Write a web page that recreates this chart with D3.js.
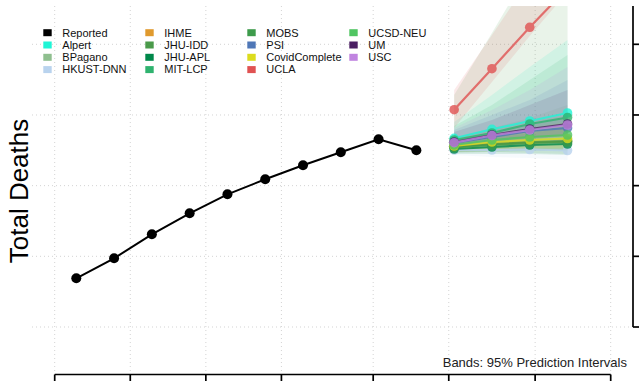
<!DOCTYPE html>
<html>
<head>
<meta charset="utf-8">
<script src="https://cdn.jsdelivr.net/npm/d3@7"></script>
<style>
  body { margin: 0; background: #fff; }
  svg { display: block; font-family: "Liberation Sans", Arial, sans-serif; }
</style>
</head>
<body>
<svg width="639" height="381"></svg>
<script>
const width = 639, height = 381;

// data
const xTicks = ["2021-02-01","2021-02-15","2021-03-01","2021-03-15","2021-04-01","2021-04-15","2021-05-01","2021-05-15"];
const yTicks = [2000, 4000, 6000, 8000, 10000];

const reportedDates = ["2021-02-05","2021-02-12","2021-02-19","2021-02-26","2021-03-05",
                       "2021-03-12","2021-03-19","2021-03-26","2021-04-02","2021-04-09"];
const reportedDeaths = [3378, 3944, 4623, 5218, 5755, 6180, 6576, 6944, 7312, 7001];

const forecastDates = ["2021-04-16","2021-04-23","2021-04-30","2021-05-07"];

const models = ["Alpert","BPagano","HKUST-DNN","IHME","JHU-IDD","JHU-APL","MIT-LCP",
                "MOBS","PSI","CovidComplete","UCLA","UCSD-NEU","UM","USC"];
const modelColors = ["#1ff5d6","#8fbf8f","#b9d3ee","#e09a2e","#4a9a4a","#00884a","#2fb36f",
                     "#3d9b4b","#4f77b7","#dcdc1e","#e05252","#50c562","#4b1f63","#c084e0"];

const forecastMedian = [
  [7340, 7595, 7830, 8056],   // Alpert
  [7122, 7207, 7264, 7292],   // BPagano
  [7009, 7009, 7023, 6995],   // HKUST-DNN
  [7108, 7179, 7221, 7250],   // IHME
  [7094, 7179, 7235, 7264],   // JHU-IDD
  [7037, 7094, 7150, 7179],   // JHU-APL
  [7292, 7490, 7745, 7929],   // MIT-LCP
  [7080, 7150, 7207, 7235],   // MOBS
  [7207, 7377, 7547, 7632],   // PSI
  [7122, 7235, 7292, 7334],   // CovidComplete
  [8149, 9310, 10481, 11594], // UCLA
  [7150, 7292, 7377, 7433],   // UCSD-NEU
  [7235, 7433, 7603, 7745],   // UM
  [7216, 7419, 7575, 7716]    // USC
];
const forecastLower = [
  [7207, 7349, 7490, 7632],
  [6952, 6981, 7009, 7009],
  [6867, 6811, 6783, 6726],
  [6952, 6981, 7009, 7009],
  [6952, 6952, 6924, 6896],
  [6896, 6896, 6896, 6867],
  [7150, 7235, 7349, 7462],
  [6924, 6952, 6981, 6981],
  [7066, 7179, 7264, 7320],
  [6981, 7037, 7066, 7066],
  [7632, 8933, 10235, 11480],
  [7009, 7094, 7150, 7179],
  [7094, 7207, 7320, 7405],
  [7094, 7207, 7320, 7433]
];
const forecastUpper = [
  [7801, 8565, 9358, 10122],
  [7349, 7632, 7915, 8282],
  [7150, 7207, 7292, 7349],
  [7264, 7405, 7547, 7688],
  [8565, 10320, 12131, 13943],
  [7207, 7349, 7490, 7632],
  [7688, 8282, 8990, 9697],
  [7292, 7518, 7716, 7915],
  [7575, 7999, 8424, 8990],
  [7292, 7462, 7632, 7801],
  [8707, 10263, 11848, 13433],
  [7349, 7575, 7801, 7999],
  [7518, 7858, 8282, 8707],
  [7632, 8141, 8707, 9358]
];

const parse = d3.utcParse("%Y-%m-%d");

const plot = { left: 32, right: 633, top: 6, bottom: 372 };

const x = d3.scaleUtc()
  .domain([parse(xTicks[0]), parse(xTicks[xTicks.length - 1])])
  .range([54.7, 610.7]);

const y = d3.scaleLinear()
  .domain([yTicks[0], yTicks[yTicks.length - 1]])
  .range([327, 44.3]);

const svg = d3.select("svg");

svg.append("defs").append("clipPath").attr("id", "clip")
  .append("rect")
  .attr("x", plot.left).attr("y", plot.top)
  .attr("width", plot.right - plot.left).attr("height", plot.bottom - plot.top);

// grid
const grid = svg.append("g")
  .attr("stroke", "#d3d3d3")
  .attr("stroke-dasharray", "1 3");

grid.selectAll(".vg").data(xTicks).enter().append("line")
  .attr("x1", d => x(parse(d))).attr("x2", d => x(parse(d)))
  .attr("y1", plot.top).attr("y2", plot.bottom);

grid.selectAll(".hg").data(yTicks).enter().append("line")
  .attr("x1", plot.left).attr("x2", plot.right)
  .attr("y1", d => y(d)).attr("y2", d => y(d));

const chart = svg.append("g").attr("clip-path", "url(#clip)");

// bands
const fDates = forecastDates.map(parse);
const area = d3.area()
  .x((d, i) => x(fDates[i]))
  .y0(d => y(d[0]))
  .y1(d => y(d[1]));

models.forEach(function(m, k) {
  const pts = forecastLower[k].map((lo, i) => [lo, forecastUpper[k][i]]);
  chart.append("path")
    .attr("d", area(pts))
    .attr("fill", modelColors[k])
    .attr("fill-opacity", 0.12);
});

// reported
const line = d3.line().x(d => x(d[0])).y(d => y(d[1]));
const rep = reportedDates.map((d, i) => [parse(d), reportedDeaths[i]]);

chart.append("path")
  .attr("d", line(rep))
  .attr("fill", "none")
  .attr("stroke", "#000")
  .attr("stroke-width", 2);

chart.selectAll(".rp").data(rep).enter().append("circle")
  .attr("cx", d => x(d[0])).attr("cy", d => y(d[1]))
  .attr("r", 5).attr("fill", "#000");

// forecast medians
models.forEach(function(m, k) {
  const pts = forecastMedian[k].map((v, i) => [fDates[i], v]);
  const g = chart.append("g").attr("opacity", 0.8);
  g.append("path")
    .attr("d", line(pts))
    .attr("fill", "none")
    .attr("stroke", modelColors[k])
    .attr("stroke-width", 2.2);
  g.selectAll("circle").data(pts).enter().append("circle")
    .attr("cx", d => x(d[0])).attr("cy", d => y(d[1]))
    .attr("r", 4.8).attr("fill", modelColors[k]);
});

// axes
const axisG = svg.append("g").attr("stroke", "#000").attr("stroke-width", 1.7);

axisG.append("line")
  .attr("x1", x(parse(xTicks[0]))).attr("x2", x(parse(xTicks[xTicks.length - 1])))
  .attr("y1", 374.5).attr("y2", 374.5);
axisG.selectAll(".xt").data(xTicks).enter().append("line")
  .attr("x1", d => x(parse(d))).attr("x2", d => x(parse(d)))
  .attr("y1", 374.5).attr("y2", 382);

axisG.append("line")
  .attr("x1", plot.right).attr("x2", plot.right)
  .attr("y1", plot.top).attr("y2", y(yTicks[0]));
axisG.selectAll(".yt").data(yTicks).enter().append("line")
  .attr("x1", plot.right).attr("x2", plot.right + 6)
  .attr("y1", d => y(d)).attr("y2", d => y(d));

// labels
svg.append("text")
  .attr("transform", "translate(28,191) rotate(-90)")
  .attr("text-anchor", "middle")
  .attr("font-size", 26)
  .text("Total Deaths");

svg.append("text")
  .attr("x", 627).attr("y", 367)
  .attr("text-anchor", "end")
  .attr("font-size", 13)
  .attr("fill", "#222")
  .text("Bands: 95% Prediction Intervals");

// legend
const legendNames = ["Reported"].concat(models);
const legendColors = ["#000"].concat(modelColors);

const leg = svg.append("g").attr("font-size", 11);
legendNames.forEach(function(name, i) {
  const col = Math.floor(i / 4), row = i % 4;
  const lx = 43.3 + col * 102, ly = 32.7 + row * 12.3;
  leg.append("rect")
    .attr("x", lx).attr("y", ly - 3.5)
    .attr("width", 8.4).attr("height", 7)
    .attr("fill", legendColors[i]);
  leg.append("text")
    .attr("x", lx + 19).attr("y", ly)
    .attr("dy", "0.35em")
    .attr("fill", "#111")
    .text(name);
});
</script>
</body>
</html>
